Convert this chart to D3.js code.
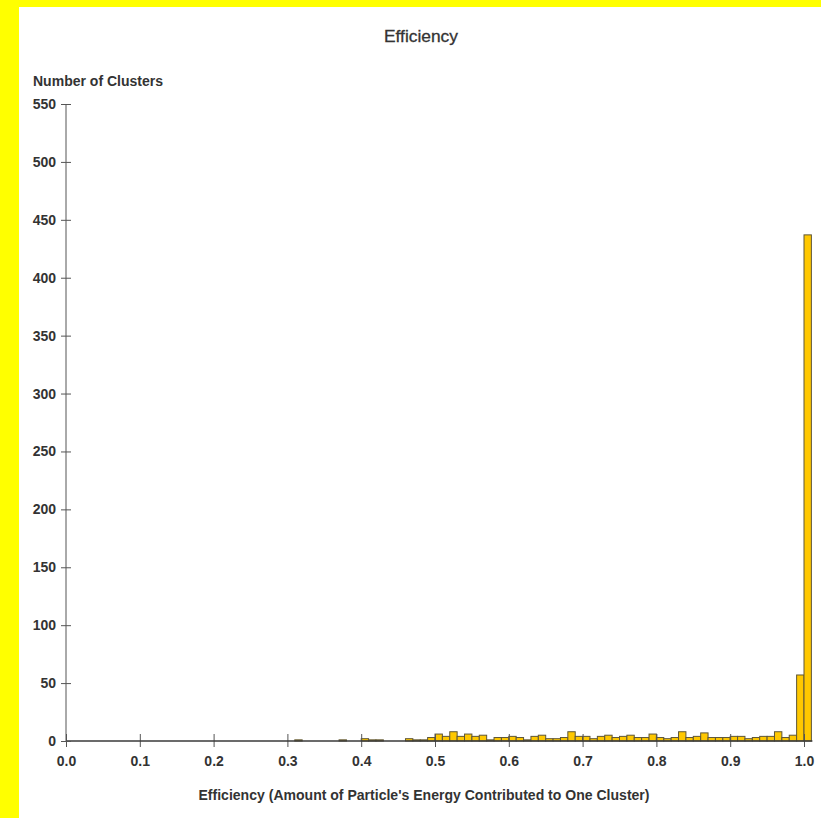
<!DOCTYPE html>
<html>
<head>
<meta charset="utf-8">
<script src="https://cdn.jsdelivr.net/npm/d3@7"></script>
<style>
  html, body { margin: 0; padding: 0; background: #ffff00; }
  svg { display: block; }
  text { font-family: "Liberation Sans", Arial, sans-serif; fill: #333; }
</style>
</head>
<body>
<script>
// Histogram bins (lower edge of each 0.01-wide efficiency bin) and cluster counts
const binStart = [0.31, 0.37, 0.40, 0.41, 0.42, 0.46, 0.47, 0.48, 0.49,
  0.50, 0.51, 0.52, 0.53, 0.54, 0.55, 0.56, 0.57, 0.58, 0.59,
  0.60, 0.61, 0.62, 0.63, 0.64, 0.65, 0.66, 0.67, 0.68, 0.69,
  0.70, 0.71, 0.72, 0.73, 0.74, 0.75, 0.76, 0.77, 0.78, 0.79,
  0.80, 0.81, 0.82, 0.83, 0.84, 0.85, 0.86, 0.87, 0.88, 0.89,
  0.90, 0.91, 0.92, 0.93, 0.94, 0.95, 0.96, 0.97, 0.98, 0.99, 1.00];
const counts = [1, 1, 2, 1, 1, 2, 1, 1, 3,
  6, 4, 8, 4, 6, 4, 5, 1, 3, 3,
  4, 3, 1, 4, 5, 2, 2, 3, 8, 4,
  4, 2, 4, 5, 3, 4, 5, 3, 3, 6,
  3, 2, 3, 8, 3, 4, 7, 3, 3, 3,
  4, 4, 2, 3, 4, 4, 8, 3, 5, 57, 437];
const binWidth = 0.01;
const xTicks = [0.0, 0.1, 0.2, 0.3, 0.4, 0.5, 0.6, 0.7, 0.8, 0.9, 1.0];
const yTicks = [0, 50, 100, 150, 200, 250, 300, 350, 400, 450, 500, 550];

const W = 821, H = 818;
const svg = d3.select("body").append("svg").attr("width", W).attr("height", H);

// white panel inside the yellow frame
svg.append("rect").attr("x", 19).attr("y", 7).attr("width", W - 19).attr("height", H - 7).attr("fill", "#ffffff");

const x = d3.scaleLinear().domain([0, 1]).range([66, 804]);
const y = d3.scaleLinear().domain([0, 550]).range([741, 104]);

// bars
svg.append("g").selectAll("rect")
  .data(binStart.map((b, i) => ({ b, c: counts[i] })))
  .join("rect")
  .attr("x", d => x(d.b))
  .attr("width", d => x(d.b + binWidth) - x(d.b))
  .attr("y", d => y(d.c))
  .attr("height", d => y(0) - y(d.c))
  .attr("fill", "#ffc800")
  .attr("stroke", "#5e5638")
  .attr("stroke-width", 1);

// x axis
const gx = svg.append("g").attr("transform", `translate(0,${y(0)})`)
  .call(d3.axisBottom(x).tickValues(xTicks).tickFormat(d3.format(".1f")).tickSize(6).tickSizeOuter(0));
gx.select(".domain").remove();
gx.append("line").attr("x1", x(0)).attr("x2", x(1 + binWidth) + 1).attr("stroke", "#3a3a3a").attr("stroke-width", 1.6);
gx.selectAll(".tick line").attr("y1", -7).attr("stroke", "#555");
gx.selectAll(".tick text").attr("y", 12).attr("dy", "0.95em")
  .style("font-size", "14px").style("font-weight", "bold").attr("fill", "#333");

// y axis
const gy = svg.append("g").attr("transform", `translate(${x(0)},0)`)
  .call(d3.axisLeft(y).tickValues(yTicks).tickSize(5).tickSizeOuter(0));
gy.select(".domain").remove();
gy.append("line").attr("y1", y(0)).attr("y2", y(550)).attr("stroke", "#555").attr("stroke-width", 1);
gy.selectAll(".tick line").attr("x1", 5).attr("stroke", "#555");
gy.selectAll(".tick text").attr("x", -10)
  .style("font-size", "14px").style("font-weight", "bold").attr("fill", "#333");

// titles
svg.append("text").attr("x", 421).attr("y", 42).attr("text-anchor", "middle")
  .style("font-size", "17px").style("stroke", "#333").style("stroke-width", 0.3)
  .attr("textLength", 74).attr("lengthAdjust", "spacingAndGlyphs")
  .text("Efficiency");
svg.append("text").attr("x", 33).attr("y", 86)
  .style("font-size", "14px").style("font-weight", "bold")
  .attr("textLength", 130).attr("lengthAdjust", "spacingAndGlyphs")
  .text("Number of Clusters");
svg.append("text").attr("x", 424).attr("y", 800).attr("text-anchor", "middle")
  .style("font-size", "14px").style("font-weight", "bold")
  .attr("textLength", 451).attr("lengthAdjust", "spacingAndGlyphs")
  .text("Efficiency (Amount of Particle's Energy Contributed to One Cluster)");
</script>
</body>
</html>
